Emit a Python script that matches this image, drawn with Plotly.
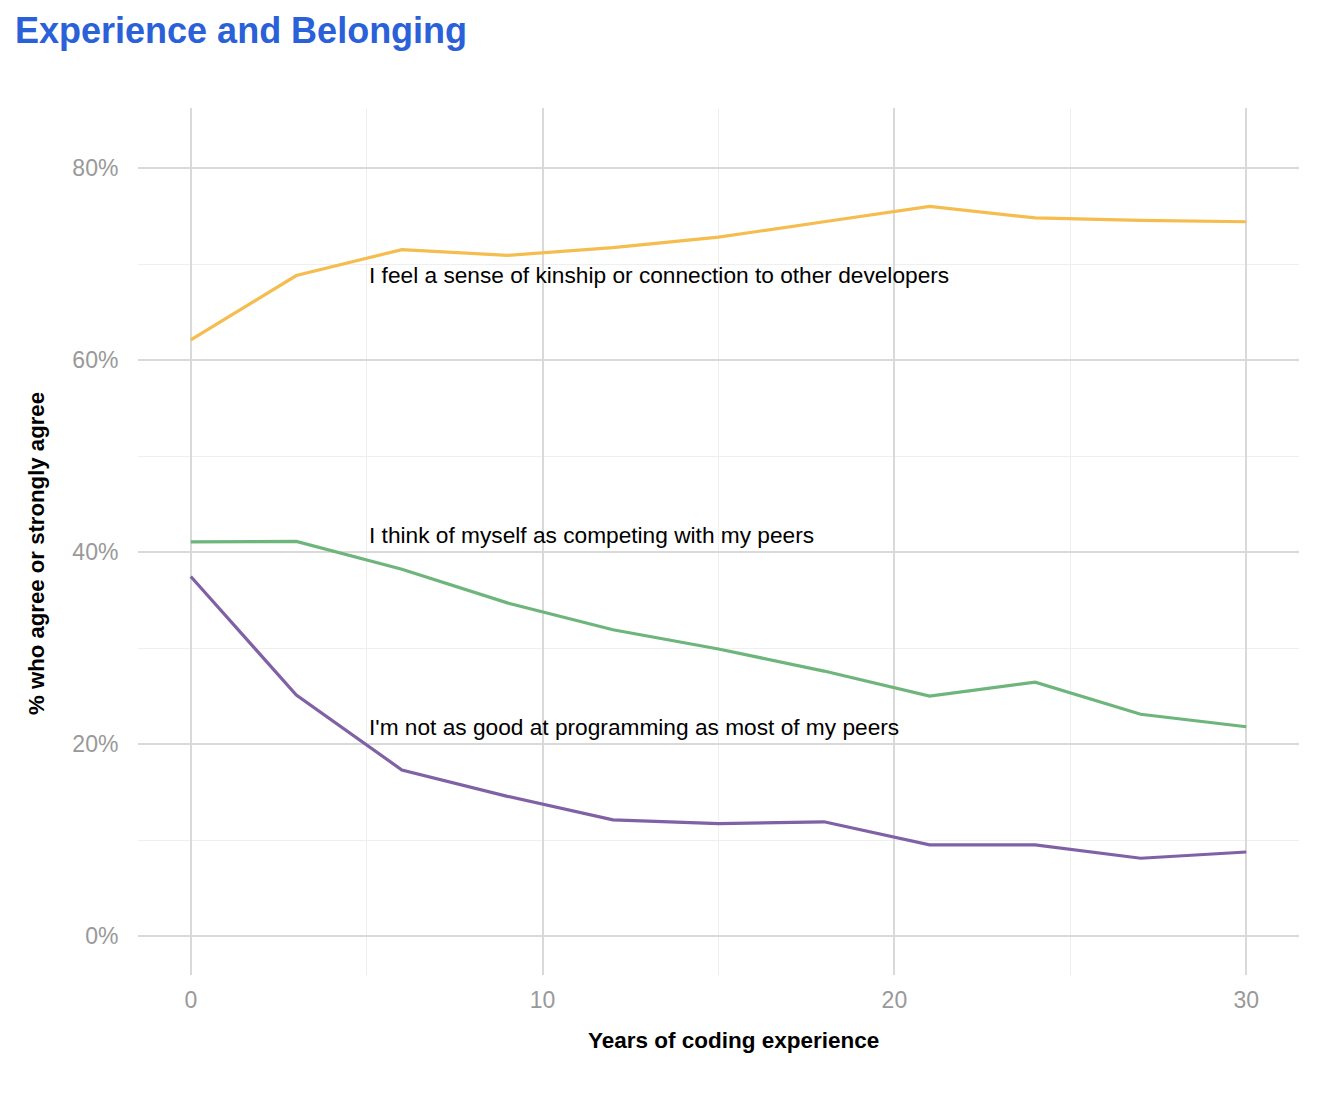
import plotly.graph_objects as go

years = [0, 3, 6, 9, 12, 15, 18, 21, 24, 27, 30]
kinship = [62.1, 68.8, 71.5, 70.9, 71.7, 72.8, 74.4, 76.0, 74.8, 74.55, 74.4]
competing = [41.05, 41.1, 38.2, 34.7, 31.9, 29.9, 27.6, 25.0, 26.45, 23.1, 21.8]
not_good = [37.45, 25.1, 17.3, 14.55, 12.1, 11.7, 11.9, 9.5, 9.5, 8.1, 8.75]

series_names = [
    "I feel a sense of kinship or connection to other developers",
    "I think of myself as competing with my peers",
    "I'm not as good at programming as most of my peers",
]
series_values = [kinship, competing, not_good]
colors = ["#F5BC4E", "#6EB57C", "#8061A6"]
label_x = 5
label_y = [68.9, 41.8, 21.8]

x_title = "Years of coding experience"
y_title = "% who agree or strongly agree"

fig = go.Figure()
for name, vals, col in zip(series_names, series_values, colors):
    fig.add_trace(go.Scatter(x=years, y=vals, mode="lines", name=name,
                             line=dict(color=col, width=3.2), showlegend=False))

for name, ly in zip(series_names, label_y):
    fig.add_annotation(x=label_x, y=ly, text=name, showarrow=False,
                       xanchor="left", yanchor="middle",
                       font=dict(family="Liberation Sans, Arial", size=22.7, color="#000000"))

# axis titles (positioned like the reference, slightly off the panel centre)
fig.add_annotation(xref="paper", yref="paper", x=(733 - 138) / 1161, y=(975 - 1040) / 867,
                   text="<b>" + x_title + "</b>", showarrow=False,
                   xanchor="center", yanchor="middle",
                   font=dict(family="Liberation Sans, Arial", size=22.5, color="#000000"))
fig.add_annotation(xref="paper", yref="paper", x=(36 - 138) / 1161, y=(975 - 554) / 867,
                   text="<b>" + y_title + "</b>", showarrow=False, textangle=-90,
                   xanchor="center", yanchor="middle",
                   font=dict(family="Liberation Sans, Arial", size=22.2, color="#000000"))

fig.update_layout(
    width=1328, height=1098,
    margin=dict(l=138, r=29, t=108, b=123),
    paper_bgcolor="white", plot_bgcolor="white",
    font=dict(family="Liberation Sans, Arial"),
    title=dict(text="<b>Experience and Belonging</b>", x=15/1328, xref="container",
               xanchor="left", y=1-30/1098, yanchor="middle",
               font=dict(size=36, color="#2A60D8", family="Liberation Sans, Arial")),
    xaxis=dict(range=[-1.5, 31.5], dtick=10, tick0=0, showgrid=True, gridcolor="#D9D9D9", gridwidth=1.6,
               zeroline=False, showline=False,
               ticks="outside", ticklen=4, tickcolor="rgba(0,0,0,0)",
               tickfont=dict(size=23, color="#999999"),
               minor=dict(dtick=5, tick0=0, showgrid=True, gridcolor="#EFEFEF", gridwidth=1.2, ticks="")),
    yaxis=dict(range=[-4.06, 86.25], dtick=20, tick0=0, showgrid=True, gridcolor="#D9D9D9", gridwidth=1.6,
               zeroline=False, showline=False, ticksuffix="%",
               ticks="outside", ticklen=14, tickcolor="rgba(0,0,0,0)",
               tickfont=dict(size=23, color="#999999"),
               minor=dict(dtick=10, tick0=0, showgrid=True, gridcolor="#EFEFEF", gridwidth=1.2, ticks="")),
)

fig.write_html("out.html")
